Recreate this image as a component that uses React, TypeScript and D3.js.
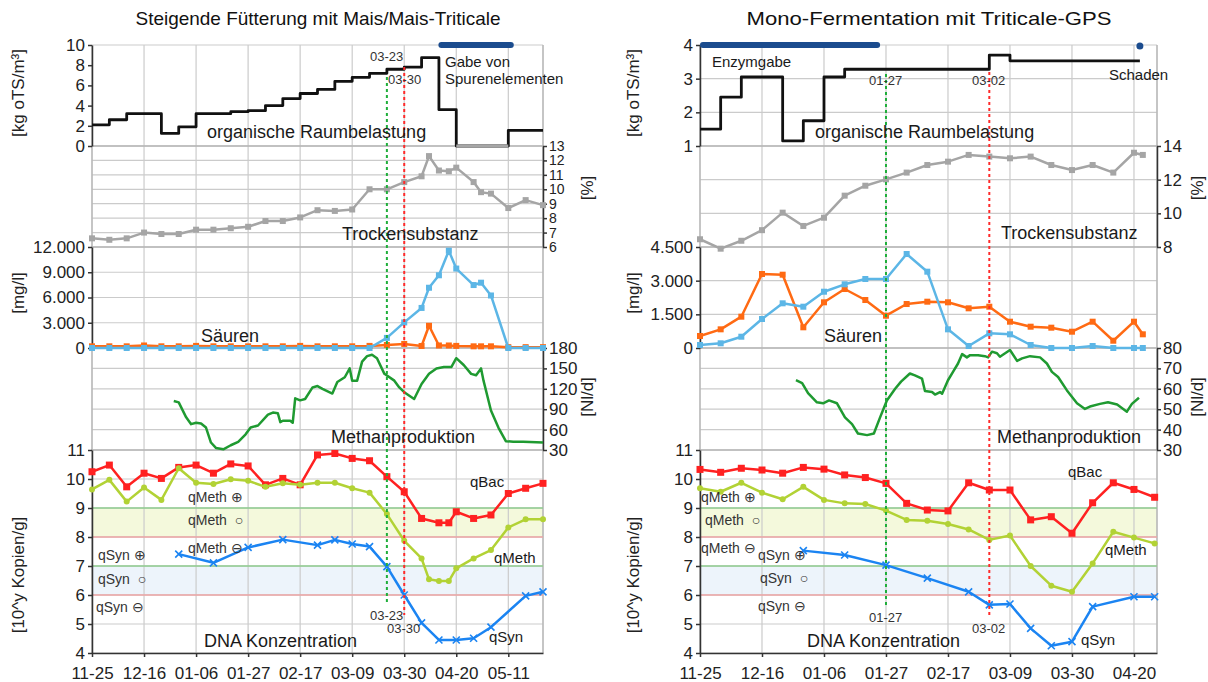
import React, { useEffect, useRef } from 'react';
import * as d3 from 'd3';

// days are counted from 11-25 (leap-year season, so 02-17 + 21 = 03-09)
const START = Date.UTC(2011, 10, 25);
const toDate = (d: number) => new Date(START + d * 86400000);
const FONT = "'Liberation Sans', Arial, sans-serif";
const fmtDE = d3.formatLocale({ decimal: ',', thousands: '.', grouping: [3], currency: ['', ' €'] }).format(',d');

// ---------- left: Steigende Fütterung mit Mais/Mais-Triticale ----------
const raumDaysL = [0, 7, 14, 28, 35, 42, 56, 63, 70, 77, 84, 91, 98, 105, 112, 119, 126, 133, 140, 147, 168, 182];
const raumValsL = [2.1, 2.6, 3.2, 1.25, 1.9, 3.2, 3.4, 3.5, 4.0, 4.7, 5.2, 5.6, 6.4, 6.8, 7.2, 7.6, 7.8, 8.75, 3.6, 0, 1.55, 1.55];
const raumGapL = [147, 168];
const spurenL = [141, 169];

const sampleDaysL = [0, 7, 14, 21, 28, 35, 42, 49, 56, 63, 70, 77, 84, 91, 98, 105, 112, 119, 126, 133, 136, 140, 144, 147, 154, 157, 161, 168, 175, 182];
const tsValsL = [6.6, 6.5, 6.6, 7.0, 6.9, 6.9, 7.2, 7.2, 7.3, 7.4, 7.8, 7.8, 8.05, 8.55, 8.5, 8.6, 10.0, 10.0, 10.5, 10.9, 12.3, 11.3, 11.25, 11.5, 10.5, 9.8, 9.7, 8.7, 9.25, 8.9];
const acidBlueL = [0, 0, 0, 0, 0, 0, 0, 0, 0, 0, 0, 0, 0, 0, 0, 0, 0, 1200, 3040, 4760, 7160, 8640, 11560, 9440, 7480, 7760, 6240, 0, 0, 0];
const acidOrangeL = [200, 200, 200, 300, 200, 200, 250, 200, 200, 200, 200, 200, 250, 200, 200, 200, 250, 360, 480, 240, 2640, 300, 300, 250, 200, 200, 200, 100, 100, 100];

const ch4DaysL = [33, 35, 38, 40, 42, 44, 46, 48, 50, 53, 56, 59, 62, 64, 67, 71, 73, 75, 76, 77, 80, 81, 82, 84, 86, 89, 91, 93, 97, 99, 102, 104, 105, 107, 109, 111, 113, 115, 118, 122, 124, 126, 130, 133, 136, 139, 142, 145, 147, 150, 153, 155, 157, 158, 161, 164, 167, 170, 174, 182];
const ch4ValsL = [102, 100, 78, 68, 70, 69, 63, 41, 33, 31, 37, 42, 53, 63, 66, 82, 85, 84, 71, 73, 73, 70, 106, 103, 105, 122, 124, 120, 113, 130, 137, 150, 132, 132, 160, 168, 170, 165, 142, 132, 122, 115, 105, 127, 142, 150, 152, 152, 165, 155, 142, 140, 150, 132, 88, 63, 43, 42, 42, 41];

const bacDaysL = [0, 7, 14, 21, 28, 35, 42, 49, 56, 63, 70, 77, 84, 91, 98, 105, 112, 119, 126, 133, 140, 144, 147, 154, 161, 168, 175, 182];
const qBacL = [10.25, 10.48, 9.73, 10.2, 10.02, 10.4, 10.48, 10.2, 10.52, 10.45, 9.8, 10.02, 9.8, 10.83, 10.88, 10.71, 10.63, 10.08, 9.56, 8.64, 8.49, 8.49, 8.87, 8.64, 8.76, 9.5, 9.68, 9.85];
const methDaysL = [0, 7, 14, 21, 28, 35, 42, 49, 56, 63, 70, 77, 84, 91, 98, 105, 112, 119, 126, 133, 136, 140, 144, 147, 154, 161, 168, 175, 182];
const qMethL = [9.64, 9.97, 9.22, 9.71, 9.28, 10.37, 9.87, 9.83, 9.99, 9.94, 9.73, 9.85, 9.8, 9.87, 9.87, 9.68, 9.53, 8.79, 7.87, 7.26, 6.54, 6.48, 6.48, 6.92, 7.26, 7.55, 8.33, 8.61, 8.61];
const synDaysL = [35, 49, 63, 77, 91, 98, 105, 112, 119, 126, 133, 140, 147, 154, 161, 175, 182];
const qSynL = [7.41, 7.11, 7.64, 7.91, 7.72, 7.9, 7.76, 7.67, 6.98, 6.0, 5.04, 4.45, 4.45, 4.51, 4.89, 5.97, 6.11];

// ---------- right: Mono-Fermentation mit Triticale-GPS ----------
const raumDaysR = [0, 7, 14, 28, 35, 42, 49, 98, 105, 149];
const raumValsR = [1.5, 2.45, 3.05, 1.15, 1.75, 3.05, 3.28, 3.7, 3.53, 3.53];
const enzymR = [1, 60];
const schadenR = 149;

const sampleDaysR = [0, 7, 14, 21, 28, 35, 42, 49, 56, 63, 70, 77, 84, 91, 98, 105, 112, 119, 126, 133, 140, 147, 150];
const tsValsR = [8.46, 7.9, 8.37, 9.0, 10.04, 9.25, 9.74, 11.05, 11.64, 12.02, 12.42, 12.87, 13.07, 13.47, 13.37, 13.27, 13.37, 12.87, 12.57, 12.87, 12.42, 13.6, 13.47];
const acidOrangeR = [535, 832, 1395, 3297, 3266, 922, 2036, 2628, 2138, 1439, 1960, 2063, 2036, 1768, 1840, 1172, 949, 905, 726, 1172, 325, 1172, 610];
const acidBlueR = [134, 209, 503, 1292, 1991, 1840, 2508, 2838, 3074, 3074, 4188, 3400, 832, 89, 654, 610, 134, 0, 0, 89, 0, 0, 0];

const ch4DaysR = [32.5, 34.6, 36.6, 39.6, 41.7, 43.7, 46.4, 49.1, 51.5, 53.5, 56.6, 58.9, 61, 63.3, 66.1, 68.1, 71.1, 72.8, 75.2, 76.2, 78.6, 79.6, 81.3, 82, 84, 85.7, 87.4, 88.8, 90.4, 91.5, 94.2, 96.5, 97.6, 98.9, 100.6, 101.6, 105, 107.4, 109.1, 111.8, 115.2, 117.5, 119.2, 121.3, 124.3, 127.7, 130.4, 132.1, 135.5, 138.2, 141.3, 144.6, 146.3, 148.7];
const ch4ValsR = [64.2, 62.8, 57.9, 53.4, 52.9, 54.3, 52.9, 46, 42.7, 38.1, 37.3, 38.1, 46, 54.3, 60, 63.5, 67.5, 66.6, 65, 58.9, 58.4, 57.2, 58.4, 57.6, 64.2, 68.3, 72.4, 77, 75.4, 76.5, 76.5, 76, 75.4, 78.2, 77.4, 75.7, 79, 73.7, 74.9, 76, 75.4, 72.4, 68.3, 65.8, 59.2, 52.9, 50.1, 51.3, 52.6, 53.4, 52.3, 48.8, 52.6, 55.6];

const dnaDaysR = [0, 7, 14, 21, 28, 35, 42, 49, 56, 63, 70, 77, 84, 91, 98, 105, 112, 119, 126, 133, 140, 147, 154];
const qBacR = [10.33, 10.23, 10.37, 10.31, 10.2, 10.4, 10.34, 10.14, 10.05, 9.85, 9.16, 8.93, 8.9, 9.87, 9.62, 9.62, 8.59, 8.7, 8.13, 9.18, 9.87, 9.64, 9.37];
const qMethR = [9.68, 9.56, 9.87, 9.53, 9.3, 9.73, 9.28, 9.16, 9.14, 8.91, 8.59, 8.56, 8.45, 8.26, 7.9, 8.05, 7.0, 6.32, 6.11, 7.09, 8.18, 7.98, 7.78];
const synDaysR = [35, 49, 63, 77, 91, 98, 105, 112, 119, 126, 133, 147, 154];
const qSynR = [7.53, 7.38, 7.03, 6.58, 6.11, 5.66, 5.69, 4.85, 4.25, 4.39, 5.6, 5.94, 5.94];

const pts = (days: number[], vals: number[]) => d3.zip(days, vals) as [number, number][];

const LEFT = {
  x0: 92, x1: 543, endDay: 182,
  title: 'Steigende Fütterung mit Mais/Mais-Triticale',
  raumDomain: [0, 10], raumTicks: [0, 2, 4, 6, 8, 10], raumGrid: [0, 10],
  tsDomain: [6, 13], tsTicks: [6, 7, 8, 9, 10, 11, 12, 13], tsFont: 14,
  acidDomain: [0, 12000], acidTicks: [0, 3000, 6000, 9000, 12000],
  ch4Domain: [30, 180], ch4Ticks: [30, 60, 90, 120, 150, 180],
  raum: pts(raumDaysL, raumValsL), gap: raumGapL, bar: spurenL, dot: null,
  ts: pts(sampleDaysL, tsValsL),
  acidO: pts(sampleDaysL, acidOrangeL), acidB: pts(sampleDaysL, acidBlueL),
  ch4: pts(ch4DaysL, ch4ValsL),
  qBac: pts(bacDaysL, qBacL), qMeth: pts(methDaysL, qMethL), qSyn: pts(synDaysL, qSynL),
  green: 119, greenSpan: [77, 605], red: 126, redSpan: [67, 615],
  leftTitleX: 18, rightTitleX: 587,
  labels: [
    ['organische Raumbelastung', 207, 138, 18],
    ['Gabe von', 445, 67, 15],
    ['Spurenelementen', 445, 84, 15],
    ['03-23', 370, 61, 13],
    ['03-30', 388, 84, 13],
    ['Trockensubstanz', 342, 240, 18],
    ['Säuren', 201, 342, 18],
    ['Methanproduktion', 331, 443, 18],
    ['DNA Konzentration', 204, 647, 18],
    ['qBac', 470, 487, 15],
    ['qMeth', 494, 563, 15],
    ['qSyn', 489, 642, 15],
    ['qMeth ⊕', 188, 502, 14],
    ['qMeth\u00a0 ○', 188, 525, 14],
    ['qMeth ⊖', 188, 553, 14],
    ['qSyn ⊕', 98, 560, 14],
    ['qSyn\u00a0 ○', 98, 584, 14],
    ['qSyn ⊖', 96, 612, 14],
    ['03-23', 370, 620, 13],
    ['03-30', 387, 633, 13],
  ],
};

const RIGHT = {
  x0: 700, x1: 1157, endDay: 154.8,
  title: 'Mono-Fermentation mit Triticale-GPS',
  raumDomain: [1, 4], raumTicks: [1, 2, 3, 4], raumGrid: [1, 2, 3, 4],
  tsDomain: [8, 14], tsTicks: [8, 10, 12, 14], tsFont: 17,
  acidDomain: [0, 4500], acidTicks: [0, 1500, 3000, 4500],
  ch4Domain: [30, 80], ch4Ticks: [30, 40, 50, 60, 70, 80],
  raum: pts(raumDaysR, raumValsR), gap: null, bar: enzymR, dot: schadenR,
  ts: pts(sampleDaysR, tsValsR),
  acidO: pts(sampleDaysR, acidOrangeR), acidB: pts(sampleDaysR, acidBlueR),
  ch4: pts(ch4DaysR, ch4ValsR),
  qBac: pts(dnaDaysR, qBacR), qMeth: pts(dnaDaysR, qMethR), qSyn: pts(synDaysR, qSynR),
  green: 63, greenSpan: [74, 605], red: 98, redSpan: [72, 615],
  leftTitleX: 633, rightTitleX: 1197,
  labels: [
    ['Enzymgabe', 712, 67, 15],
    ['Schaden', 1109, 80, 15],
    ['01-27', 869, 85, 13],
    ['03-02', 972, 85, 13],
    ['organische Raumbelastung', 815, 138, 18],
    ['Trockensubstanz', 1001, 239, 18],
    ['Säuren', 824, 342, 18],
    ['Methanproduktion', 997, 443, 18],
    ['DNA Konzentration', 807, 647, 18],
    ['qBac', 1068, 477, 15],
    ['qMeth', 1105, 555, 15],
    ['qSyn', 1081, 645, 15],
    ['qMeth ⊕', 701, 502, 14],
    ['qMeth\u00a0 ○', 705, 525, 14],
    ['qMeth ⊖', 701, 553, 14],
    ['qSyn ⊕', 758, 560, 14],
    ['qSyn\u00a0 ○', 760, 583, 14],
    ['qSyn ⊖', 758, 611, 14],
    ['01-27', 869, 622, 13],
    ['03-02', 972, 633, 13],
  ],
};

function drawChart(svg: any, c: any) {
  const g = svg.append('g').attr('font-family', FONT);
  const x = d3.scaleUtc().domain([toDate(0), toDate(c.endDay)]).range([c.x0, c.x1]);
  const px = (d: number) => x(toDate(d));
  const yR = d3.scaleLinear().domain(c.raumDomain).range([146, 45]);
  const yT = d3.scaleLinear().domain(c.tsDomain).range([247, 146]);
  const yA = d3.scaleLinear().domain(c.acidDomain).range([348, 247]);
  const yM = d3.scaleLinear().domain(c.ch4Domain).range([450, 348]);
  const yD = d3.scaleLinear().domain([4, 11]).range([653, 450]);
  const xTicks = d3.range(0, c.endDay, 21).map(toDate);
  const GRID = '#cbcbcb';

  // bands in the DNA panel
  const band = (lo: number, hi: number, fill: string) =>
    g.append('rect').attr('x', c.x0).attr('width', c.x1 - c.x0).attr('y', yD(hi)).attr('height', yD(lo) - yD(hi)).attr('fill', fill);
  band(8, 9, '#f4f9dc');
  band(6, 7, '#edf4fb');

  // grid
  const hLines = (scale: any, vals: number[], color = GRID) =>
    g.append('g').selectAll('line').data(vals).join('line')
      .attr('x1', c.x0).attr('x2', c.x1).attr('y1', (d: number) => scale(d)).attr('y2', (d: number) => scale(d))
      .attr('stroke', color).attr('stroke-width', 1.2);
  hLines(yR, c.raumGrid);
  hLines(yT, c.tsTicks);
  hLines(yA, c.acidTicks);
  hLines(yM, c.ch4Ticks);
  hLines(yD, d3.range(4, 12));
  g.append('g').selectAll('line').data([...xTicks, toDate(c.endDay)]).join('line')
    .attr('x1', (d: Date) => x(d)).attr('x2', (d: Date) => x(d)).attr('y1', 45).attr('y2', 653)
    .attr('stroke', GRID).attr('stroke-width', 1.2);
  g.append('g').selectAll('line').data([c.x0, c.x1]).join('line')
    .attr('x1', (d: number) => d).attr('x2', (d: number) => d).attr('y1', 45).attr('y2', 653)
    .attr('stroke', '#b3b3b3').attr('stroke-width', 1.2);
  hLines((v: number) => v, [146, 247, 348, 450], '#aaaaaa');
  [[9, '#8fcc8f'], [8, '#eca5a5'], [7, '#8fcc8f'], [6, '#eca5a5']].forEach(([v, col]: any) =>
    g.append('line').attr('x1', c.x0).attr('x2', c.x1).attr('y1', yD(v)).attr('y2', yD(v)).attr('stroke', col).attr('stroke-width', 1.5));

  // axes
  const axis = (gen: any, tx: number, ty = 0, fs = 17) => {
    const a = g.append('g').attr('transform', `translate(${tx},${ty})`).call(gen);
    a.attr('font-size', fs).attr('font-family', FONT);
    a.select('.domain').attr('stroke', '#333').attr('stroke-width', 1.5);
    a.selectAll('.tick line').attr('stroke', '#333').attr('stroke-width', 1.5);
    a.selectAll('.tick text').attr('fill', '#222');
    return a;
  };
  const intF = d3.format('d');
  axis(d3.axisLeft(yR).tickValues(c.raumTicks).tickFormat(intF).tickSize(4).tickSizeOuter(0).tickPadding(3), c.x0);
  axis(d3.axisRight(yT).tickValues(c.tsTicks).tickFormat(intF).tickSize(4).tickSizeOuter(0).tickPadding(2), c.x1, 0, c.tsFont);
  axis(d3.axisLeft(yA).tickValues(c.acidTicks).tickFormat(fmtDE).tickSize(4).tickSizeOuter(0).tickPadding(3), c.x0);
  axis(d3.axisRight(yM).tickValues(c.ch4Ticks).tickFormat(intF).tickSize(4).tickSizeOuter(0).tickPadding(2), c.x1);
  axis(d3.axisLeft(yD).tickValues(d3.range(4, 12)).tickFormat(intF).tickSize(4).tickSizeOuter(0).tickPadding(3), c.x0);
  axis(d3.axisBottom(x).tickValues(xTicks).tickFormat(d3.utcFormat('%m-%d')).tickSize(4).tickSizeOuter(0).tickPadding(10), 0, 653);

  // series helpers
  const path = (data: [number, number][], scale: any, color: string, width: number, curve: any = d3.curveLinear) =>
    g.append('path').datum(data).attr('fill', 'none').attr('stroke', color).attr('stroke-width', width)
      .attr('stroke-linejoin', 'round')
      .attr('d', d3.line<[number, number]>().x((d) => px(d[0])).y((d) => scale(d[1])).curve(curve));
  const squares = (data: [number, number][], scale: any, color: string, s: number) =>
    g.append('g').selectAll('rect').data(data).join('rect')
      .attr('x', (d: any) => px(d[0]) - s / 2).attr('y', (d: any) => scale(d[1]) - s / 2)
      .attr('width', s).attr('height', s).attr('fill', color);

  // Raumbelastung
  path(c.raum, yR, '#111', 2.8, d3.curveStepAfter);
  if (c.gap) {
    g.append('line').attr('x1', px(c.gap[0])).attr('x2', px(c.gap[1])).attr('y1', yR(0)).attr('y2', yR(0))
      .attr('stroke', '#a6a6a6').attr('stroke-width', 3);
  }
  g.append('line').attr('x1', px(c.bar[0])).attr('x2', px(c.bar[1])).attr('y1', 45).attr('y2', 45)
    .attr('stroke', '#1b4c8e').attr('stroke-width', 6).attr('stroke-linecap', 'round');
  if (c.dot != null) g.append('circle').attr('cx', px(c.dot)).attr('cy', 46).attr('r', 3.5).attr('fill', '#1b4c8e');

  // Trockensubstanz
  path(c.ts, yT, '#a5a5a5', 2.5);
  squares(c.ts, yT, '#a5a5a5', 6);

  // Säuren
  path(c.acidO, yA, '#ff6a13', 2.5);
  squares(c.acidO, yA, '#ff6a13', 6);
  path(c.acidB, yA, '#5cb6e6', 2.5);
  squares(c.acidB, yA, '#5cb6e6', 6);

  // Methan
  path(c.ch4, yM, '#1f9a31', 2.5);

  // DNA
  path(c.qBac, yD, '#ff2121', 2.5);
  squares(c.qBac, yD, '#ff2121', 7);
  path(c.qMeth, yD, '#b2d235', 2.5);
  g.append('g').selectAll('circle').data(c.qMeth).join('circle')
    .attr('cx', (d: any) => px(d[0])).attr('cy', (d: any) => yD(d[1])).attr('r', 3).attr('fill', '#b2d235');
  path(c.qSyn, yD, '#1b84f2', 2.5);
  g.append('g').selectAll('path').data(c.qSyn).join('path')
    .attr('transform', (d: any) => `translate(${px(d[0])},${yD(d[1])})`)
    .attr('d', 'M-3.5,-3.5L3.5,3.5M-3.5,3.5L3.5,-3.5').attr('stroke', '#1b84f2').attr('stroke-width', 1.6);

  // marker dates
  const vline = (day: number, span: number[], color: string) =>
    g.append('line').attr('x1', px(day)).attr('x2', px(day)).attr('y1', span[0]).attr('y2', span[1])
      .attr('stroke', color).attr('stroke-width', 2).attr('stroke-dasharray', '3,3');
  vline(c.green, c.greenSpan, '#1fae3a');
  vline(c.red, c.redSpan, '#ff2a2a');

  // texts
  g.append('text').attr('x', (c.x0 + c.x1) / 2 - 182).attr('y', 25)
    .attr('font-size', 19).attr('fill', '#111')
    .attr('textLength', 365).attr('lengthAdjust', 'spacingAndGlyphs').text(c.title);
  c.labels.forEach(([t, lx, ly, fs]: any) =>
    g.append('text').attr('x', lx).attr('y', ly).attr('font-size', fs).attr('fill', fs > 14 ? '#1a1a1a' : '#333').text(t));

  const yTitle = (t: string, tx: number, ty: number) =>
    g.append('text').attr('transform', `translate(${tx},${ty}) rotate(-90)`).attr('text-anchor', 'middle')
      .attr('dominant-baseline', 'central').attr('font-size', 17).attr('fill', '#222').text(t);
  yTitle('[kg oTS/m³]', c.leftTitleX, 93);
  yTitle('[mg/l]', c.leftTitleX, 293);
  yTitle('[10^y Kopien/g]', c.leftTitleX, 575);
  yTitle('[%]', c.rightTitleX, 188);
  yTitle('[Nl/d]', c.rightTitleX, 397);
}

export default function App() {
  const ref = useRef<SVGSVGElement>(null);
  useEffect(() => {
    const svg = d3.select(ref.current);
    svg.selectAll('*').remove();
    drawChart(svg, LEFT);
    drawChart(svg, RIGHT);
  }, []);
  return (
    <svg ref={ref} width={1208} height={682}
      style={{ position: 'absolute', left: 0, top: 0, background: '#fff' }} />
  );
}
